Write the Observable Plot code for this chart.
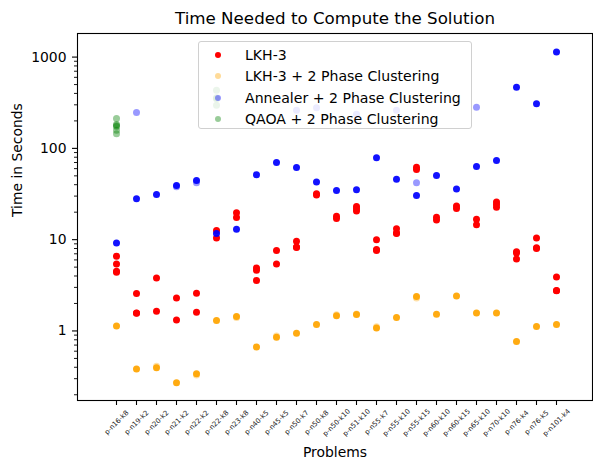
<!DOCTYPE html>
<html>
<head>
<meta charset="utf-8">
<script src="https://cdn.jsdelivr.net/npm/d3@7"></script>
<script src="https://cdn.jsdelivr.net/npm/@observablehq/plot@0.6"></script>
<style>
  html, body { margin: 0; padding: 0; background: #fff; }
  body { width: 593px; height: 459px; overflow: hidden; font-family: "DejaVu Sans", sans-serif; }
  #wrap { position: relative; width: 593px; height: 459px; }
  #title { box-sizing: border-box; height: 28px; padding-top: 8px; padding-left: 77px; width: 593px;
           text-align: center; font-size: 16.7px; line-height: 20px; color: #000; }
  #legend { position: absolute; left: 198px; top: 41px; width: 274px; height: 88px; box-sizing: border-box;
            border: 1px solid #d0d0d0; border-radius: 3px; background: rgba(255,255,255,0.8); }
  .row { position: absolute; left: 0; height: 20px; font-size: 14.1px; line-height: 20px; white-space: nowrap; color: #000; }
  .sw { position: absolute; left: 16px; top: 7px; width: 6px; height: 6px; border-radius: 50%; }
  .lt { position: absolute; left: 46px; top: 0; }
  svg { display: block; }
</style>
</head>
<body>
<div id="wrap">
  <div id="title">Time Needed to Compute the Solution</div>
  <div id="chart"></div>
  <div id="legend"></div>
</div>
<script>
const problems = ["p-n16-k8","p-n19-k2","p-n20-k2","p-n21-k2","p-n22-k2","p-n22-k8","p-n23-k8","p-n40-k5","p-n45-k5","p-n50-k7","p-n50-k8","p-n50-k10","p-n51-k10","p-n55-k7","p-n55-k10","p-n55-k15","p-n60-k10","p-n60-k15","p-n65-k10","p-n70-k10","p-n76-k4","p-n76-k5","p-n101-k4"];

// LKH-3 run times (each run drawn)
const lkh3 = [
  [6.6, 5.4, 4.5, 4.4],
  [2.57, 1.57, 1.56],
  [3.8, 1.64],
  [2.30, 1.32],
  [2.59, 1.60],
  [12.6, 10.4],
  [19.7, 17.5],
  [4.89, 4.61, 3.56],
  [7.59, 5.41],
  [9.6, 8.3, 8.2],
  [31.9, 30.8],
  [18.0, 17.1],
  [23.1, 21.8, 20.6],
  [10.0, 7.8, 7.6],
  [13.2, 11.8, 11.7],
  [62.3, 58.8],
  [17.6, 16.4],
  [23.3, 21.9],
  [16.7, 14.6],
  [25.8, 24.3, 22.7],
  [7.39, 7.14, 6.14],
  [10.4, 8.17, 8.0],
  [3.90, 2.77, 2.75]
];

// LKH-3 + 2 Phase Clustering: typical time (most runs) and a few deviating runs
const lkhCluster = [1.13, 0.384, 0.394, 0.27, 0.339, 1.30, 1.44, 0.668, 0.853, 0.944, 1.18, 1.47, 1.51, 1.08, 1.40, 2.38, 1.52, 2.41, 1.57, 1.57, 0.766, 1.12, 1.18];
const lkhClusterOther = [["p-n20-k2", 0.41], ["p-n22-k2", 0.33], ["p-n23-k8", 1.40], ["p-n45-k5", 0.88], ["p-n50-k10", 1.50], ["p-n51-k10", 1.53], ["p-n55-k7", 1.11], ["p-n55-k15", 2.30]];

// Annealer + 2 Phase Clustering
const annealer = [9.2, 28.1, 31.3, 39.3, 44.5, 11.7, 13.0, 51.4, 70.1, 61.8, 42.7, 34.6, 35.3, 78.9, 46.0, 30.5, 50.5, 35.8, 63.4, 73.7, 467, 308, 1140];
const annealerOther = [["p-n19-k2", 247], ["p-n21-k2", 38], ["p-n22-k2", 42], ["p-n50-k7", 262], ["p-n50-k8", 278], ["p-n51-k10", 237], ["p-n55-k10", 262], ["p-n55-k15", 42], ["p-n65-k10", 282]];

// QAOA + 2 Phase Clustering runs
const qaoa = [["p-n16-k8", 213], ["p-n16-k8", 183], ["p-n16-k8", 178], ["p-n16-k8", 174], ["p-n16-k8", 158], ["p-n16-k8", 145],
              ["p-n22-k8", 433], ["p-n22-k8", 359], ["p-n22-k8", 350], ["p-n22-k8", 297]];

const yTicks = [1, 10, 100, 1000];
const yTickLabels = ["1", "10", "100", "1000"];
const yMinor = [0.2,0.3,0.4,0.5,0.6,0.7,0.8,0.9, 2,3,4,5,6,7,8,9, 20,30,40,50,60,70,80,90, 200,300,400,500,600,700,800,900];

const series = [
  {name: "LKH-3", color: "#ff0000", legendOpacity: 1},
  {name: "LKH-3 + 2 Phase Clustering", color: "#ffa500", legendOpacity: 0.4},
  {name: "Annealer + 2 Phase Clustering", color: "#0000ff", legendOpacity: 0.4},
  {name: "QAOA + 2 Phase Clustering", color: "#008000", legendOpacity: 0.4}
];

const redRows = problems.flatMap((p, i) => lkh3[i].map(v => ({p, v})));
const orangeMain = problems.map((p, i) => ({p, v: lkhCluster[i]}));
const orangeOther = lkhClusterOther.map(([p, v]) => ({p, v}));
const blueMain = problems.map((p, i) => ({p, v: annealer[i]}));
const blueOther = annealerOther.map(([p, v]) => ({p, v}));
const greenRows = qaoa.map(([p, v]) => ({p, v}));

const R = 3.5;
const chart = Plot.plot({
  width: 593,
  height: 431,
  marginTop: 5,
  marginBottom: 59,
  marginLeft: 77,
  marginRight: 1,
  style: {fontFamily: "DejaVu Sans, sans-serif", background: "white", color: "black"},
  x: {type: "point", domain: problems, range: [99.3, 572], axis: null},
  y: {type: "log", domain: [0.173, 1813], axis: null},
  marks: [
    Plot.dot(redRows, {x: "p", y: "v", r: R, fill: "#ff0000", fillOpacity: 1}),
    Plot.dot(orangeMain, {x: "p", y: "v", r: R, fill: "#ffa500", fillOpacity: 0.93}),
    Plot.dot(orangeOther, {x: "p", y: "v", r: R, fill: "#ffa500", fillOpacity: 0.35}),
    Plot.dot(blueMain, {x: "p", y: "v", r: R, fill: "#0000ff", fillOpacity: 0.93}),
    Plot.dot(blueOther, {x: "p", y: "v", r: R, fill: "#0000ff", fillOpacity: 0.4}),
    Plot.dot(greenRows, {x: "p", y: "v", r: R, fill: "#008000", fillOpacity: 0.4}),
    Plot.frame({stroke: "black", strokeWidth: 1.1}),
    Plot.axisY({ticks: yTicks, tickFormat: (d) => yTickLabels[yTicks.indexOf(d)], tickSize: 5, tickPadding: 6, fontSize: 13.9, strokeWidth: 1.1, label: null}),
    Plot.axisY({ticks: yMinor, tickFormat: () => "", tickSize: 3, strokeWidth: 0.9, label: null}),
    Plot.axisX({ticks: problems, tickFormat: () => "", tickSize: 5, strokeWidth: 1.1, label: null}),
    Plot.text(problems, {x: d => d, text: d => d, frameAnchor: "bottom", dy: 22, rotate: -45, textAnchor: "middle", lineAnchor: "middle", fontSize: 6.9, fill: "#222"}),
    Plot.text(["Problems"], {frameAnchor: "bottom", dy: 52, text: d => d, fontSize: 13.9, lineAnchor: "middle", fill: "black"}),
    Plot.text(["Time in Seconds"], {frameAnchor: "left", dx: -60, rotate: -90, text: d => d, fontSize: 13.9, lineAnchor: "middle", fill: "black"})
  ]
});
document.getElementById("chart").appendChild(chart);

const legend = document.getElementById("legend");
series.forEach((s, i) => {
  const row = document.createElement("div");
  row.className = "row";
  row.style.top = (3 + i * 21.3) + "px";
  row.style.width = "100%";
  const sw = document.createElement("span");
  sw.className = "sw";
  sw.style.background = s.color;
  sw.style.opacity = s.legendOpacity;
  const lt = document.createElement("span");
  lt.className = "lt";
  lt.textContent = s.name;
  row.appendChild(sw);
  row.appendChild(lt);
  legend.appendChild(row);
});
</script>
</body>
</html>
